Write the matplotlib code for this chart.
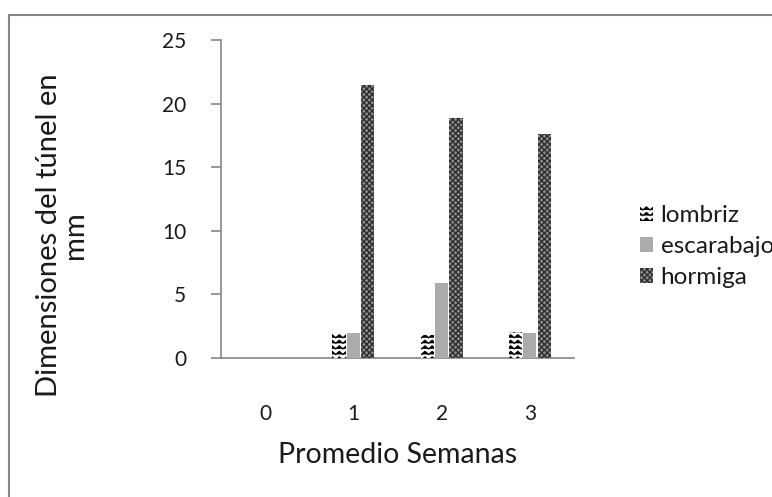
import warnings
warnings.filterwarnings('ignore')
import numpy as np
import matplotlib
matplotlib.use('Agg')
import matplotlib.pyplot as plt
import matplotlib.hatch as mhatch
from matplotlib.path import Path
from matplotlib.patches import Rectangle, Patch

# ---- data ----
semanas = ['0', '1', '2', '3']
lombriz = [0, 2.0, 1.8, 2.05]
escarabajo = [0, 2.0, 5.9, 2.0]
hormiga = [0, 21.5, 18.9, 17.6]
series_names = ['lombriz', 'escarabajo', 'hormiga']
y_ticks = [0, 5, 10, 15, 20, 25]


# ---- custom zigzag hatch (Excel-like "zigzag" pattern) ----
class ZigzagHatch(mhatch.HatchPatternBase):
    def __init__(self, hatch, density):
        self.num_rows = int(hatch.count('z') * density)
        self.num_peaks = 14
        self.pts = 2 * self.num_peaks + 1
        self.num_vertices = self.num_rows * self.pts

    def set_vertices_and_codes(self, vertices, codes):
        xs = np.linspace(0.0, 1.0, self.pts)
        amp = 0.55 / max(self.num_rows, 1)
        for r in range(self.num_rows):
            base = (r + 0.2) / self.num_rows
            ys = base + amp * (np.arange(self.pts) % 2)
            sl = slice(r * self.pts, (r + 1) * self.pts)
            vertices[sl, 0] = xs
            vertices[sl, 1] = ys
            codes[sl] = Path.LINETO
            codes[r * self.pts] = Path.MOVETO


mhatch._hatch_types.append(ZigzagHatch)

plt.rcParams['font.family'] = ['Lato', 'DejaVu Sans']
plt.rcParams['hatch.linewidth'] = 0.9

W, H = 772, 497
fig = plt.figure(figsize=(W / 100, H / 100), dpi=100)
fig.patch.set_facecolor('white')

ax = fig.add_axes([221 / W, 1 - 358 / H, (574 - 221) / W, (358 - 40) / H])

x = np.arange(len(semanas))
bw = 0.15
off = 0.164
styles = [
    dict(facecolor='white', edgecolor='black', hatch='zzz', linewidth=0),
    dict(facecolor='#ababab', edgecolor='#ababab', linewidth=0),
    dict(facecolor='#8a8a8a', edgecolor='#2a2a2a', hatch='xxxxxx', linewidth=0),
]
for i, (vals, st) in enumerate(zip([lombriz, escarabajo, hormiga], styles)):
    ax.bar(x + (i - 1) * off, vals, width=bw, **st, zorder=3)

ax.set_xlim(-0.5, len(semanas) - 0.5)
ax.set_ylim(0, 25)
ax.set_yticks(y_ticks)
ax.set_xticks(x)
ax.set_xticklabels(semanas)

for s in ['top', 'right']:
    ax.spines[s].set_visible(False)
for s in ['left', 'bottom']:
    ax.spines[s].set_color('#868686')
    ax.spines[s].set_linewidth(1.2)

ax.tick_params(axis='y', length=7, width=1.2, color='#868686', pad=18,
               labelsize=15, labelcolor='#1a1a1a')
ax.tick_params(axis='x', length=0, pad=33, labelsize=15, labelcolor='#1a1a1a')

fig.text(276 / W + (520 - 276) / (2 * W), 1 - 455 / H, 'Promedio Semanas',
         ha='center', va='center', fontsize=20.5, color='#1a1a1a')
fig.text(62 / W, 1 - 235 / H, 'Dimensiones del túnel en\nmm', rotation=90,
         ha='center', va='center', multialignment='center', linespacing=1.0,
         fontsize=21, color='#1a1a1a')

handles = [Patch(**styles[0]), Patch(**styles[1]), Patch(**styles[2])]
leg = fig.legend(handles, series_names, loc='upper left',
                 bbox_to_anchor=(640 / W, 1 - 205 / H), frameon=False,
                 fontsize=17.5, handlelength=0.55, handleheight=0.55,
                 handletextpad=0.3, labelspacing=0.42, borderpad=0,
                 borderaxespad=0)
for t in leg.get_texts():
    t.set_color('#1a1a1a')

# outer chart frame
fig.add_artist(Rectangle((9 / W, -0.1), 1.2, 1.1 - 15 / H, transform=fig.transFigure,
                         fill=False, edgecolor='#868686', linewidth=1.5))

fig.savefig('out.png', dpi=100)
